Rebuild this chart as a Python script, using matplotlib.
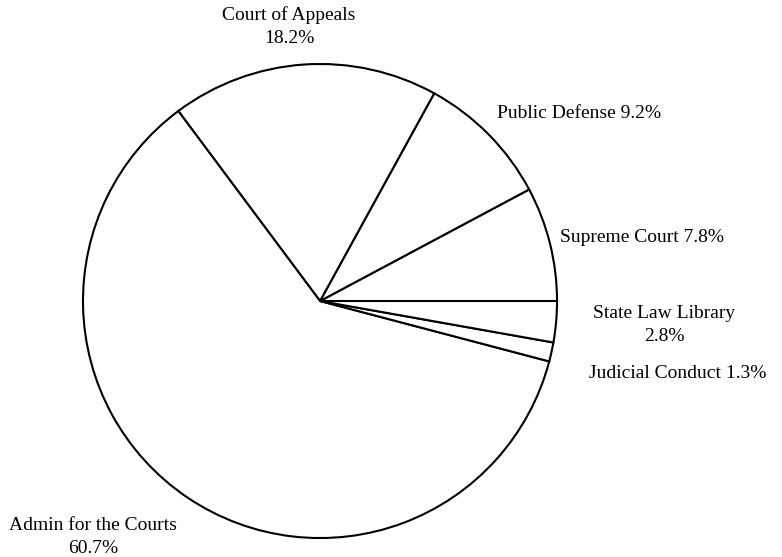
import matplotlib
matplotlib.use('Agg')
import matplotlib.pyplot as plt

# budget shares, counter-clockwise from 3 o'clock
categories = ['Supreme Court', 'Public Defense', 'Court of Appeals',
              'Admin for the Courts', 'Judicial Conduct', 'State Law Library']
shares = [7.8, 9.2, 18.2, 60.7, 1.3, 2.8]

plt.rcParams['font.family'] = ['Liberation Serif', 'DejaVu Serif']

fig = plt.figure(figsize=(7.82, 5.57), dpi=100)
ax = fig.add_axes([0, 0, 1, 1])
ax.pie(shares, startangle=0, counterclock=True,
       colors=['white'] * len(shares),
       wedgeprops={'edgecolor': 'black', 'linewidth': 1.5})
ax.set_aspect('equal')
ax.set_xlim(-1.350, 1.949)
ax.set_ylim(-1.080, 1.270)
ax.axis('off')

# label placement (x, y, ha, two-line)
label_pos = {
    'Supreme Court': (1.013, 0.266, 'left', False),
    'Public Defense': (0.747, 0.793, 'left', False),
    'Court of Appeals': (-0.131, 1.158, 'center', True),
    'Admin for the Courts': (-0.958, -0.994, 'center', True),
    'Judicial Conduct': (1.135, -0.304, 'left', False),
    'State Law Library': (1.451, -0.101, 'center', True),
}
for name, val in zip(categories, shares):
    x, y, ha, two = label_pos[name]
    txt = f'{name}\n{val:.1f}%' if two else f'{name} {val:.1f}%'
    ax.text(x, y, txt, ha=ha, va='center', fontsize=14,
            linespacing=1.45, multialignment='center')

fig.savefig('out.png', dpi=100)
